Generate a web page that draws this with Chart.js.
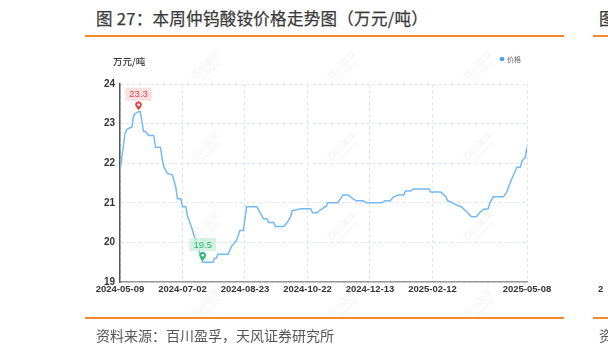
<!DOCTYPE html>
<html><head><meta charset="utf-8">
<script src="https://cdn.jsdelivr.net/npm/chart.js@4.4.1/dist/chart.umd.min.js"></script>
<style>
html,body{margin:0;padding:0;background:#fff;width:608px;height:353px;overflow:hidden;position:relative;font-family:"Noto Sans CJK SC","Noto Sans",sans-serif;}
#c{position:absolute;left:0;top:0;}
.t{position:absolute;white-space:nowrap;}
.wm{position:absolute;color:rgba(0,0,0,0.06);font-size:9px;line-height:9px;transform:rotate(-45deg);text-align:center;pointer-events:none;}
.wm span{display:block;font-family:"Liberation Sans",sans-serif;font-size:6px;}
.ol{position:absolute;height:2px;background:#f08a2c;}
.ttl{font-family:"Noto Sans CJK SC";font-size:16.5px;letter-spacing:0.3px;color:#3a3a3a;font-weight:normal;-webkit-text-stroke:0.25px #3a3a3a;}
</style></head><body>
<div class="t ttl" style="left:96px;top:6px;">图 27：本周仲钨酸铵价格走势图（万元/吨）</div>
<div class="ol" style="left:85px;top:35px;width:479px;"></div>
<div class="t ttl" style="left:599px;top:6px;">图</div>
<div class="ol" style="left:593px;top:35px;width:15px;"></div>
<canvas id="c" width="608" height="353"></canvas>
<div class="ol" style="left:85px;top:317px;width:479px;"></div>
<div class="ol" style="left:593px;top:317px;width:15px;"></div>
<div class="t" style="left:96px;top:325px;font-size:14px;color:#555;">资料来源：百川盈孚，天风证券研究所</div>
<div class="t" style="left:599px;top:325px;font-size:14px;color:#555;">资</div>
<div class="t" style="left:598px;top:283px;font-size:9.5px;font-weight:bold;color:#333;font-family:'Liberation Sans',sans-serif;">2</div>
<div id="wms"></div>
<script>
// ---- data (trading-day index from 2024-05-09, price in 万元/吨) ----
const dayIdx = [0,3,4,6,7,8,9,11,12,14,15,16,17,20,21,24,25,26,28,31,33,34,36,37,39,40,41,43,44,46,48,49,55,56,57,58,64,66,68,69,71,73,75,81,83,85,87,88,91,92,97,99,101,102,107,113,114,117,118,120,121,122,123,129,132,135,138,140,144,146,155,157,160,162,165,168,169,172,174,183,184,190,193,194,197,199,202,206,208,211,213,215,218,219,221,227,229,231,233,235,237,238,240,241];
const price  = [21.8,22.75,22.85,22.9,22.9,23.2,23.25,23.3,23.3,22.8,22.8,22.75,22.7,22.7,22.4,22.4,22.1,21.9,21.75,21.7,21.4,21.1,21.1,20.9,20.9,20.65,20.55,20.3,20.15,19.95,19.6,19.5,19.5,19.6,19.6,19.7,19.7,19.9,20.0,20.05,20.3,20.3,20.9,20.9,20.75,20.6,20.6,20.5,20.5,20.4,20.4,20.5,20.65,20.8,20.85,20.85,20.75,20.75,20.8,20.85,20.9,20.9,21.0,21.0,21.2,21.2,21.1,21.05,21.05,21.0,21.0,21.05,21.05,21.15,21.2,21.2,21.3,21.3,21.35,21.35,21.27,21.27,21.15,21.05,21.0,20.95,20.9,20.75,20.65,20.65,20.75,20.83,20.85,21.0,21.15,21.15,21.27,21.5,21.7,21.9,21.9,22.05,22.15,22.42];
const tickIdx = [0,37,74,111,148,185,241];
const tickLabels = ['2024-05-09','2024-07-02','2024-08-23','2024-10-22','2024-12-13','2025-02-12','2025-05-08'];
const yTicks = [19,20,21,22,23,24];
const seriesName = '价格';
const unitLabel = '万元/吨';

// watermarks
const wmX = [210,347,483], wmY = [67,148,228,305];
let h='';
wmY.forEach(y=>wmX.forEach(x=>{h+=`<div class="wm" style="left:${x-20}px;top:${y-8}px;">百川盈孚<span>BAIINFO</span></div>`;}));
document.getElementById('wms').innerHTML=h;

const extra = {
  id:'extra',
  afterDraw(chart){
    const ctx=chart.ctx, xs=chart.scales.x, ys=chart.scales.y;
    ctx.save();
    ctx.font='500 9.5px "Noto Sans CJK SC"';
    ctx.fillStyle='#333';ctx.textAlign='left';ctx.textBaseline='middle';
    ctx.fillText(unitLabel,113,61);
    ctx.fillStyle='#4a9ff0';
    ctx.beginPath();ctx.arc(502,59,2.3,0,Math.PI*2);ctx.fill();
    ctx.font='7px "Noto Sans CJK SC"';ctx.fillStyle='#666';
    ctx.fillText(seriesName,507,59);
    let iMax=0,iMin=0;
    price.forEach((v,i)=>{if(v>price[iMax])iMax=i;if(v<price[iMin])iMin=i;});
    const mark=(i,col,bg)=>{
      const x=xs.getPixelForValue(dayIdx[i]), y=ys.getPixelForValue(price[i]);
      const cy=y-7;
      ctx.fillStyle=col;
      ctx.beginPath();
      ctx.arc(x,cy,3.3,Math.PI*0.8,Math.PI*0.2,false);
      ctx.lineTo(x,y-1.5);ctx.closePath();ctx.fill();
      ctx.fillStyle='#fff';ctx.beginPath();ctx.arc(x,cy,1.3,0,Math.PI*2);ctx.fill();
      const txt=price[i].toFixed(1);
      ctx.font='9.5px "Liberation Sans"';
      const w=ctx.measureText(txt).width+8, hh=13;
      const by=cy-4-hh;
      ctx.fillStyle=bg;ctx.fillRect(x-w/2,by,w,hh);
      ctx.fillStyle=col;ctx.textAlign='center';ctx.textBaseline='middle';
      ctx.fillText(txt,x,by+hh/2+0.5);
    };
    mark(iMax,'#e0474c','rgba(250,215,215,0.75)');
    mark(iMin,'#2eb872','rgba(205,240,220,0.85)');
    ctx.restore();
  }
};

new Chart(document.getElementById('c'),{
  type:'line',
  data:{datasets:[{label:seriesName,data:dayIdx.map((d,i)=>({x:d,y:price[i]})),
    borderColor:'#74b9f6',borderWidth:1.5,pointRadius:0,tension:0,fill:false}]},
  options:{
    responsive:false,animation:false,devicePixelRatio:1,
    layout:{padding:{left:80,right:81,top:84,bottom:51}},
    plugins:{legend:{display:false},tooltip:{enabled:false}},
    scales:{
      x:{type:'linear',min:0,max:241,
        afterBuildTicks(s){s.ticks=tickIdx.map(v=>({value:v}));},
        afterFit(s){s.height=20;},
        ticks:{autoSkip:false,maxRotation:0,padding:2,color:'#333',
          font:{family:'"Liberation Sans"',size:9.5,weight:'bold'},
          callback:(v,i)=>tickLabels[i]},
        grid:{color:'#dfe5ef',drawTicks:false,tickLength:0},
        border:{display:true,color:'#999',width:1.5,dash:[3,3]}
      },
      y:{min:19,max:24,
        afterBuildTicks(s){s.ticks=yTicks.map(v=>({value:v}));},
        afterFit(s){s.width=40;},
        ticks:{padding:5,color:'#333',font:{family:'"Liberation Sans"',size:10,weight:'bold'}},
        grid:{color:'#dfe5ef',drawTicks:false,tickLength:0},
        border:{display:true,color:'#555',width:1.5,dash:[3,3]}
      }
    }
  },
  plugins:[extra]
});
</script>
</body></html>
